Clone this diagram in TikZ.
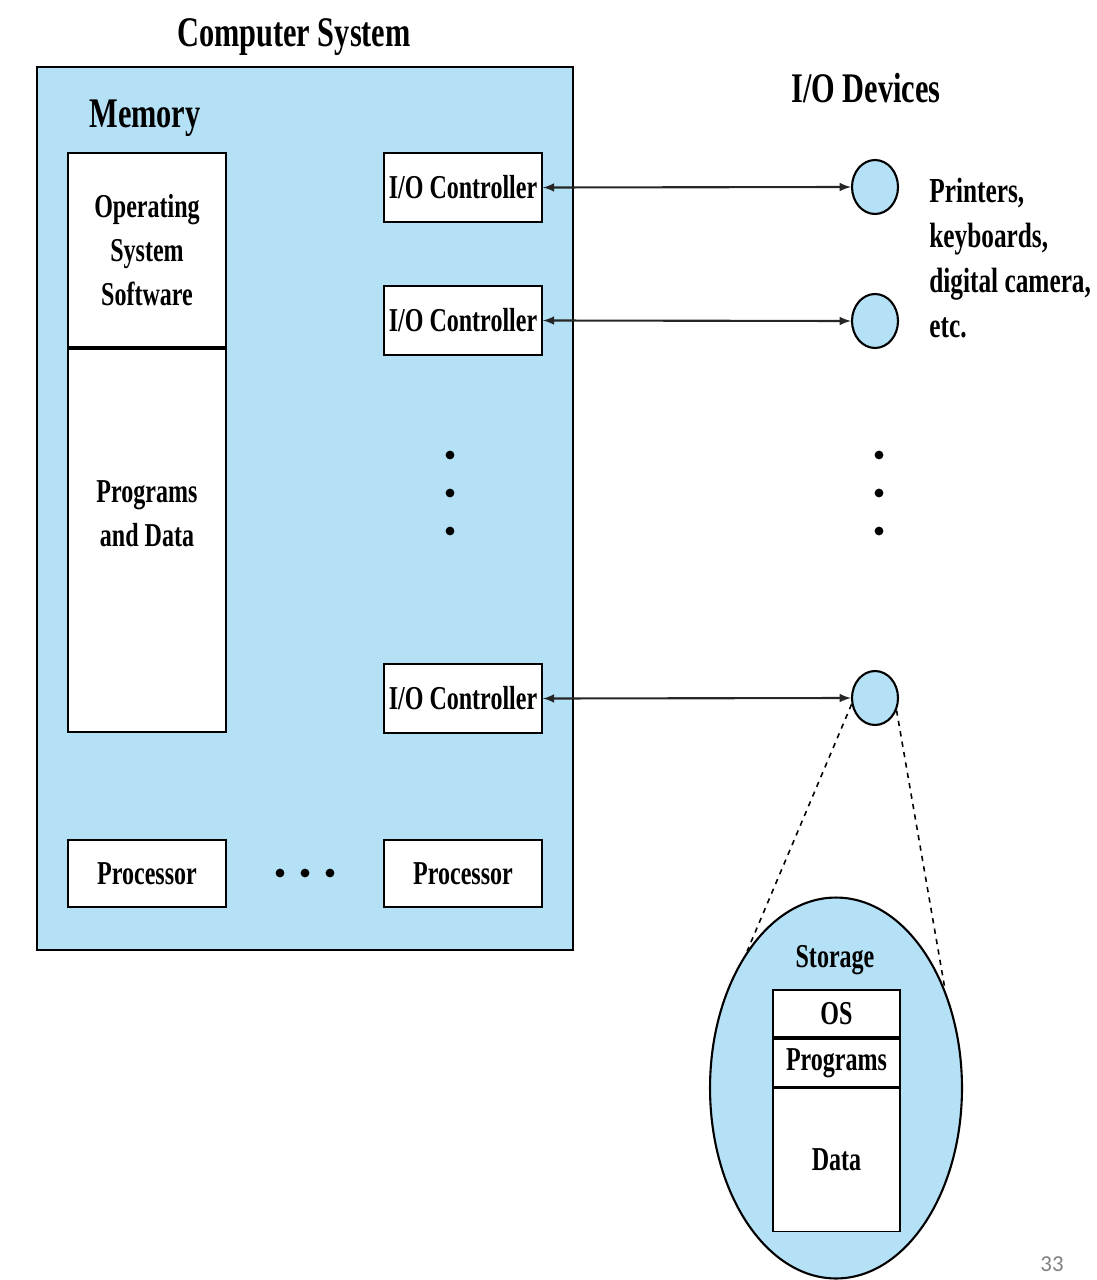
\documentclass[tikz,border=0pt]{standalone}
\usepackage{fontspec}
\setmainfont{Liberation Serif}[FakeStretch=0.72]
\newfontfamily\pagefont{Carlito}
\usetikzlibrary{arrows,shapes.geometric,calc,positioning}
\definecolor{sysblue}{RGB}{181,225,246}

\begin{document}
\begin{tikzpicture}[x=0.02cm,y=-0.02cm,
    box/.style={draw,line width=1pt,fill=white,align=center,inner sep=0pt,
        font=\fontsize{19}{25}\selectfont\bfseries,minimum width=3.16cm},
    ctrl/.style={box,minimum height=1.38cm},
    dev/.style={ellipse,draw,line width=1.2pt,fill=sysblue,inner sep=0pt,
        minimum width=0.92cm,minimum height=1.08cm},
    head/.style={font=\fontsize{24}{28}\selectfont\bfseries},
    link/.style={latex-latex,line width=1.2pt,draw=black!85}]

    \useasboundingbox (0,0) rectangle (1096,1280);

    % computer system
    \node[head] (title) at (294,37) {Computer System};
    \node[draw,line width=1.6pt,fill=sysblue,minimum width=10.72cm,minimum height=17.66cm] (sys) at (305,508.5) {};
    \node[head] (mem) at (145,118) {Memory};
    \node[box,minimum height=3.88cm] (ossw) at (147,250) {Operating\\System\\Software};
    \node[box,minimum height=7.66cm,below=0pt of ossw] (progdata) {Programs\\and Data\\[0.2cm]};
    \node[ctrl] (ctrl1) at (463,187.5) {I/O Controller};
    \node[ctrl] (ctrl2) at (463,320.5) {I/O Controller};
    \node[ctrl] (ctrl3) at (463,698.5) {I/O Controller};
    \node[box,minimum height=1.34cm] (cpu1) at (147,873.5) {Processor};
    \node[box,minimum height=1.34cm] (cpu2) at (463,873.5) {Processor};
    \foreach \y in {455,493,531} \fill (450,\y) circle (2.5pt);
    \foreach \x in {280,305,330} \fill (\x,873) circle (2.5pt);

    % devices
    \node[head] (devs) at (866,88) {I/O Devices};
    \node[dev] (dev1) at (875,187) {};
    \node[dev] (dev2) at (875,321) {};
    \node[dev] (dev3) at (875,698) {};
    \foreach \y in {455,493,531} \fill (879,\y) circle (2.5pt);
    \node[anchor=west,align=left,inner sep=0pt,font=\fontsize{20}{25.5}\selectfont\bfseries] (kinds) at (929,258)
        {Printers,\\keyboards,\\digital camera,\\etc.};
    \draw[link] (ctrl1.east) -- (dev1.west);
    \draw[link] (ctrl2.east) -- (dev2.west);
    \draw[link] (ctrl3.east) -- (dev3.west);

    % storage blow-up
    \node[ellipse,draw,line width=1.2pt,fill=sysblue,minimum width=5.04cm,minimum height=7.62cm] (store) at (836,1088) {};
    \draw[dashed,line width=0.9pt] (dev3.195) -- (store.123);
    \draw[dashed,line width=0.9pt] (dev3.-30) -- (store.42);
    \node[font=\fontsize{19}{25}\selectfont\bfseries] (storelbl) at (835,960) {Storage};
    \node[box,minimum width=2.54cm,minimum height=0.94cm] (os) at (836.5,1013.5) {OS};
    \node[box,minimum width=2.54cm,minimum height=0.96cm,below=0pt of os] (progs) {Programs};
    \node[box,minimum width=2.54cm,minimum height=2.86cm,below=0pt of progs] (data) {Data};

    \node[font=\pagefont\fontsize{13}{15}\selectfont,text=gray] (pagenum) at (1052,1264) {33};
\end{tikzpicture}
\end{document}
